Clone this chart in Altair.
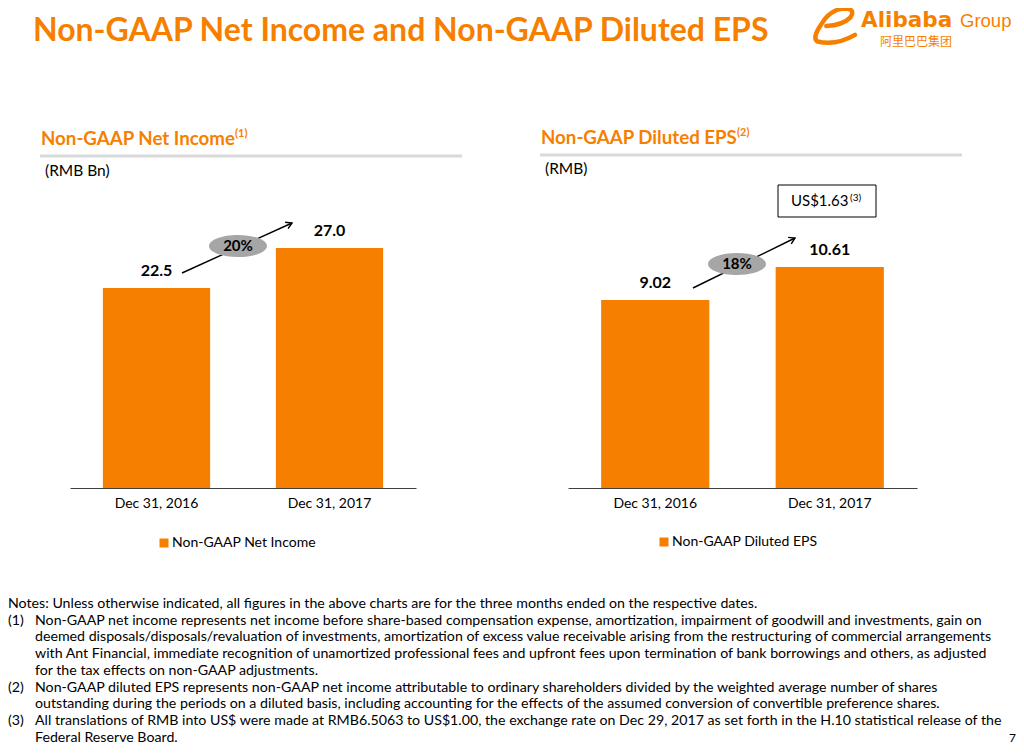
import altair as alt
import pandas as pd

ORANGE = "#F77F00"
GREY_LINE = "#D9D9D9"
ELLIPSE = "#A6A6A6"
FONT = "Lato"

title_text = "Non-GAAP Net Income and Non-GAAP Diluted EPS"
periods = ["Dec 31, 2016", "Dec 31, 2017"]
net_income = [22.5, 27.0]
net_income_labels = ["22.5", "27.0"]
eps = [9.02, 10.61]
eps_labels = ["9.02", "10.61"]
ni_growth = "20%"
eps_growth = "18%"
usd_eps = "US$1.63"
ni_series = "Non-GAAP Net Income"
eps_series = "Non-GAAP Diluted EPS"
ni_header = "Non-GAAP Net Income"
eps_header = "Non-GAAP Diluted EPS"
ni_unit = "(RMB Bn)"
eps_unit = "(RMB)"
notes = [
    "Notes: Unless otherwise indicated, all figures in the above charts are for the three months ended on the respective dates.",
    "Non-GAAP net income represents net income before share-based compensation expense, amortization, impairment of goodwill and investments, gain on",
    "deemed disposals/disposals/revaluation of investments, amortization of excess value receivable arising from the restructuring of commercial arrangements",
    "with Ant Financial, immediate recognition of unamortized professional fees and upfront fees upon termination of bank borrowings and others, as adjusted",
    "for the tax effects on non-GAAP adjustments.",
    "Non-GAAP diluted EPS represents non-GAAP net income attributable to ordinary shareholders divided by the weighted average number of shares",
    "outstanding during the periods on a diluted basis, including accounting for the effects of the assumed conversion of convertible preference shares.",
    "All translations of RMB into US$ were made at RMB6.5063 to US$1.00, the exchange rate on Dec 29, 2017 as set forth in the H.10 statistical release of the",
    "Federal Reserve Board.",
]
note_markers = {1: "(1)", 5: "(2)", 7: "(3)"}

W, H = 1008, 737
OX = OY = 8

LOGO_PATH = ("M 0.95 0.45 Q 0.1 0.95 -0.75 0.75 Q -1.0 0.6 -0.6 0.0 "
             "Q -0.2 -0.7 0.45 -0.75 Q 1.0 -0.75 0.75 -0.35 Q 0.4 0.0 -0.35 0.05")


def X(v):
    return v - OX


def Y(v):
    return v - OY


def one():
    return alt.Data(values=[{"k": 1}])


def txt(s, x, y, size=13, weight="normal", color="black", align="left",
        baseline="middle", style="normal", font=FONT):
    return alt.Chart(one()).mark_text(
        text=s, fontSize=size, fontWeight=weight, color=color, align=align,
        baseline=baseline, fontStyle=style, font=font,
    ).encode(x=alt.value(X(x)), y=alt.value(Y(y)))


def hrule(x1, x2, y, color, width):
    return alt.Chart(one()).mark_rule(color=color, strokeWidth=width).encode(
        x=alt.value(X(x1)), x2=alt.value(X(x2)), y=alt.value(Y(y)))


def arrow(x1, y1, x2, y2, angle):
    line = alt.Chart(one()).mark_rule(color="black", strokeWidth=1.4).encode(
        x=alt.value(X(x1)), x2=alt.value(X(x2)), y=alt.value(Y(y1)), y2=alt.value(Y(y2)))
    head = alt.Chart(one()).mark_point(
        shape="M -1 -0.6 L 0 0 L -1 0.6", filled=False, stroke="black",
        strokeWidth=1.4, size=140, angle=angle, opacity=1,
    ).encode(x=alt.value(X(x2)), y=alt.value(Y(y2)))
    return [line, head]


def ellipse(cx, cy, label):
    e = alt.Chart(one()).mark_point(
        shape="M -1 0 A 1 0.38 0 1 0 1 0 A 1 0.38 0 1 0 -1 0 Z",
        filled=True, fill=ELLIPSE, strokeWidth=0, size=3364, opacity=1,
    ).encode(x=alt.value(X(cx)), y=alt.value(Y(cy)))
    t = txt(label, cx, cy, size=15, weight="bold", align="center")
    return [e, t]


def panel(values, labels, series, x_range, y_range, legend_xy):
    df = pd.DataFrame({"period": periods, "value": values, "label": labels,
                       "series": [series] * len(periods)})
    xs = alt.Scale(domain=periods, range=[X(x_range[0]), X(x_range[1])],
                   paddingInner=0.38, paddingOuter=0.19)
    ys = alt.Scale(domain=[0, max(values)], range=[Y(y_range[0]), Y(y_range[1])],
                   nice=False, zero=True)
    base = alt.Chart(df)
    bars = base.mark_bar(color=ORANGE).encode(
        x=alt.X("period:N", scale=xs, sort=periods, title=None,
                axis=alt.Axis(orient="bottom", offset=Y(y_range[0]) - H,
                              domainColor="#404040", domainWidth=1.2,
                              ticks=False, tickSize=0, labelPadding=8,
                              labelFont=FONT, labelFontSize=14, labelColor="black",
                              labelAngle=0, grid=False)),
        y=alt.Y("value:Q", scale=ys, axis=None),
        color=alt.Color("series:N", scale=alt.Scale(range=[ORANGE]),
                        legend=alt.Legend(orient="none", legendX=X(legend_xy[0]),
                                          legendY=Y(legend_xy[1]), title=None,
                                          symbolType="square", symbolSize=81,
                                          symbolStrokeWidth=0, labelFont=FONT,
                                          labelFontSize=14, labelColor="black",
                                          labelOffset=1, padding=0)),
    )
    vals = base.mark_text(dy=-17, fontSize=16, fontWeight="bold", font=FONT,
                          color="black", baseline="middle").encode(
        x=alt.X("period:N", scale=xs, sort=periods),
        y=alt.Y("value:Q", scale=ys),
        text="label:N",
    )
    return alt.layer(bars, vals)


layers = []
# title and logo
layers.append(txt(title_text, 33, 31, size=32, weight="bold", color=ORANGE))
layers.append(alt.Chart(one()).mark_point(
    shape=LOGO_PATH, filled=False, stroke=ORANGE, strokeWidth=4.5, size=1936,
    opacity=1, strokeCap="round",
).encode(x=alt.value(X(834)), y=alt.value(Y(25))))
layers.append(txt("Alibaba", 861, 21, size=21.5, weight="bold", color=ORANGE, font="DejaVu Sans"))
layers.append(txt("Group", 960, 21, size=18.5, weight="normal", color=ORANGE, font="Liberation Sans"))
layers.append(txt("阿里巴巴集团", 880, 41.5, size=12, color=ORANGE, font="Noto Sans CJK SC"))

# left panel decorations
layers.append(txt(ni_header, 41, 139, size=18.7, weight="bold", color=ORANGE))
layers.append(txt("(1)", 235, 134, size=11, weight="bold", color=ORANGE))
layers.append(hrule(40, 462, 156, GREY_LINE, 3))
layers.append(txt(ni_unit, 45, 171, size=15.5))

# right panel decorations
layers.append(txt(eps_header, 541, 138, size=18.7, weight="bold", color=ORANGE))
layers.append(txt("(2)", 737, 133, size=11, weight="bold", color=ORANGE))
layers.append(hrule(540, 962, 155, GREY_LINE, 3))
layers.append(txt(eps_unit, 545, 169, size=15.5))

# USD box
layers.append(alt.Chart(one()).mark_rect(fill="white", stroke="black", strokeWidth=1).encode(
    x=alt.value(X(778)), x2=alt.value(X(876)), y=alt.value(Y(185)), y2=alt.value(Y(217))))
layers.append(txt(usd_eps, 791, 201, size=15))
layers.append(txt("(3)", 850, 198, size=10))

# panels
left = panel(net_income, net_income_labels, ni_series, (70, 416), (488, 248), (157, 536))
right = panel(eps, eps_labels, eps_series, (568, 917), (488, 267), (657, 535))

# growth arrows
layers += arrow(182, 273, 292, 223, 335.6)
layers += ellipse(238, 246, ni_growth)
layers += arrow(693, 288, 795, 238, 333.9)
layers += ellipse(737, 264, eps_growth)

# notes
note_y0 = 604
note_step = 16.7
NOTE_SIZE = 14.2
for i, line in enumerate(notes):
    yy = note_y0 + i * note_step
    if i == 0:
        layers.append(txt(line, 8, yy, size=NOTE_SIZE))
    else:
        if i in note_markers:
            layers.append(txt(note_markers[i], 8, yy, size=NOTE_SIZE))
        layers.append(txt(line, 35, yy, size=NOTE_SIZE))
layers.append(txt("7", 1016, 737.5, size=12, align="right"))

chart = alt.layer(left, right, *layers).resolve_scale(
    x="independent", y="independent", color="independent"
).properties(
    width=W, height=H, autosize="none", padding=0, background="white"
).configure_view(stroke=None)

chart.save("out.html", embed_options={"renderer": "svg", "actions": False})
